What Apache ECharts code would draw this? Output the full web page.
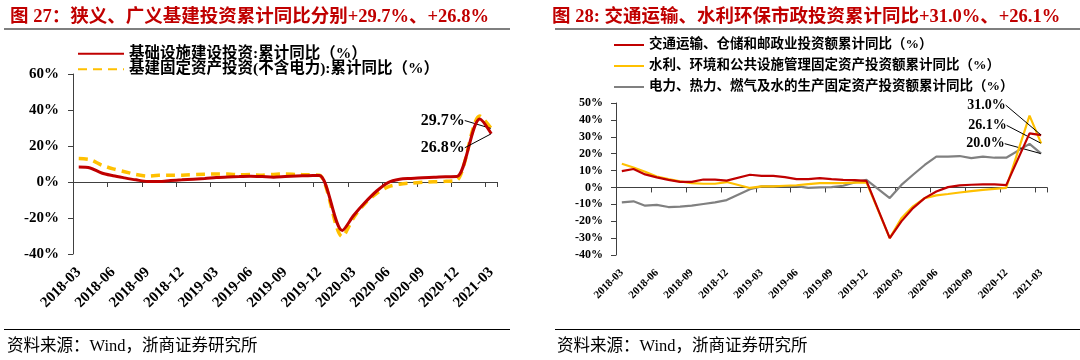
<!DOCTYPE html>
<html><head><meta charset="utf-8">
<script src="https://cdn.jsdelivr.net/npm/echarts@6/dist/echarts.min.js"></script>
<style>html,body{margin:0;padding:0;background:#fff}#c{width:1080px;height:360px}</style>
</head><body><div id="c"></div>
<script>
// ---------- data ----------
const months = [
  '2018-03','2018-04','2018-05','2018-06','2018-07','2018-08','2018-09','2018-10','2018-11','2018-12',
  '2019-01','2019-02','2019-03','2019-04','2019-05','2019-06','2019-07','2019-08','2019-09','2019-10','2019-11','2019-12',
  '2020-01','2020-02','2020-03','2020-04','2020-05','2020-06','2020-07','2020-08','2020-09','2020-10','2020-11','2020-12',
  '2021-01','2021-02','2021-03'
];
// left chart
const infraBroad = [
  8.3, 7.8, 5.0, 3.5, 2.3, 1.2, 0.3, 0.3, 0.8, 1.2,
  null, 2.0, 2.5, 2.8, 3.0, 3.2, 3.0, 2.7, 3.0, 3.3, 3.5, 3.6,
  null, -26.9, -18.5, -11.3, -5.0, -0.3, 1.5, 2.0, 2.4, 2.6, 2.9, 3.0,
  null, 35.0, 26.8
];
const infraNarrow = [
  13.0, 12.4, 9.4, 7.3, 5.7, 4.2, 3.3, 3.7, 3.7, 3.8,
  null, 4.3, 4.4, 4.4, 4.0, 4.1, 3.8, 4.2, 4.5, 4.2, 4.0, 3.8,
  null, -30.3, -19.7, -11.8, -6.3, -2.7, -1.2, -0.6, -0.2, 0.1, 0.4, 0.9,
  null, 36.6, 29.7
];
// right chart
const transport = [
  9.7, 10.9, 7.7, 6.0, 4.5, 3.3, 3.3, 4.7, 4.6, 4.0,
  null, 7.5, 6.9, 6.9, 6.1, 4.9, 4.9, 5.5, 4.9, 4.5, 4.3, 3.9,
  null, -30.0, -20.1, -12.2, -6.3, -2.4, 0.2, 1.2, 1.6, 1.8, 1.8, 1.4,
  null, 32.0, 31.0
];
const waterEnv = [
  14.0, 11.8, 9.3, 6.5, 4.9, 3.6, 2.6, 2.2, 2.2, 3.2,
  null, -0.3, 0.6, 0.6, 1.0, 1.3, 2.0, 2.6, 2.6, 2.6, 2.8, 3.0,
  null, -30.0, -18.3, -11.2, -6.3, -4.7, -3.9, -3.0, -2.2, -1.4, -0.8, -0.2,
  null, 42.5, 26.1
];
const utilities = [
  -8.8, -8.2, -10.8, -10.3, -11.6, -11.4, -10.8, -9.8, -8.8, -7.5,
  null, -1.0, 0.6, 0.6, 0.8, 0.8, -0.3, 0.0, 0.2, 1.0, 3.0, 4.5,
  null, -6.3, 1.5, 7.5, 13.3, 18.3, 18.2, 18.6, 17.4, 18.3, 17.6, 17.6,
  null, 25.8, 20.0
];
const leftTicks = [-40, 60, 20];   // min, max, interval
const rightTicks = [-40, 50, 10];

const leftNames = ['基础设施建设投资:累计同比（%）', '基建固定资产投资(不含电力):累计同比（%）'];
const rightNames = ['交通运输、仓储和邮政业投资额累计同比（%）', '水利、环境和公共设施管理固定资产投资额累计同比（%）', '电力、热力、燃气及水的生产固定资产投资额累计同比（%）'];

// ---------- styles ----------
const SERIF = '"Liberation Serif", "Noto Sans CJK SC", serif';
const RED = '#C00000', YEL = '#FFC000', GRY = '#808080', AX = '#404040';

function withEndLabel(vals, dist, fs) {
  const n = vals.length - 1;
  return vals.map((v, i) => i < n ? v : {
    value: v, symbol: 'circle', symbolSize: 1,
    itemStyle: { color: 'rgba(0,0,0,0)', borderWidth: 0 },
    label: { show: true, position: 'left', distance: dist, formatter: v.toFixed(1) + '%',
      fontSize: fs, fontWeight: 'bold', fontFamily: SERIF, color: '#000' }
  });
}

function catAxes(grid, fs) {
  return [
    { type: 'category', gridIndex: grid, data: months, boundaryGap: true, position: 'bottom',
      axisLine: { show: false, onZero: false }, axisTick: { show: false },
      axisLabel: { interval: 2, rotate: 45, margin: 16, fontSize: fs, fontWeight: 'bold', fontFamily: SERIF, color: '#000' } },
    { type: 'category', gridIndex: grid, data: months, boundaryGap: true, position: 'bottom',
      axisLine: { show: true, onZero: true, lineStyle: { color: AX, width: 1 } },
      axisTick: { show: true, interval: 2, length: 5, lineStyle: { color: AX } },
      axisLabel: { show: false } }
  ];
}
function valAxis(grid, t, fs, margin) {
  return { type: 'value', gridIndex: grid, min: t[0], max: t[1], interval: t[2],
    axisLine: { show: true, lineStyle: { color: AX } },
    axisTick: { show: true, length: 5, lineStyle: { color: AX } },
    splitLine: { show: false },
    axisLabel: { formatter: '{value}%', margin: margin, fontSize: fs, fontWeight: 'bold', fontFamily: SERIF, color: '#000' } };
}

const lineBase = { type: 'line', symbol: 'none', showAllSymbol: true, connectNulls: true, silent: true,
  labelLine: { show: true, lineStyle: { color: '#000', width: 1 } } };

const chart = echarts.init(document.getElementById('c'), null, { renderer: 'canvas' });
chart.setOption({
  backgroundColor: '#fff',
  animation: false,
  title: [
    { text: '图 27：狭义、广义基建投资累计同比分别+29.7%、+26.8%', left: 5, top: 3,
      textStyle: { fontSize: 18.5, fontWeight: 'bold', color: RED, fontFamily: SERIF } },
    { text: '图 28: 交通运输、水利环保市政投资累计同比+31.0%、+26.1%', left: 547, top: 3,
      textStyle: { fontSize: 18.5, fontWeight: 'bold', color: RED, fontFamily: SERIF } }
  ],
  legend: [
    { orient: 'vertical', left: 72, top: 41, itemWidth: 46, itemHeight: 14, itemGap: 0,
      data: leftNames, itemStyle: { opacity: 0 },
      textStyle: { fontSize: 15.5, lineHeight: 15, fontWeight: 'bold', fontFamily: SERIF, color: '#000' } },
    { orient: 'vertical', left: 608, top: 31, itemWidth: 30, itemHeight: 14, itemGap: 3,
      data: rightNames, itemStyle: { opacity: 0 },
      textStyle: { fontSize: 13.5, lineHeight: 18, fontWeight: 'bold', fontFamily: SERIF, color: '#000' } }
  ],
  grid: [
    { left: 73, top: 74, width: 424, height: 180 },
    { left: 616, top: 103, width: 431, height: 152 }
  ],
  xAxis: [...catAxes(0, 15), ...catAxes(1, 11)],
  yAxis: [valAxis(0, leftTicks, 15, 14), valAxis(1, rightTicks, 12, 13)],
  series: [
    Object.assign({}, lineBase, { name: leftNames[0], xAxisIndex: 0, yAxisIndex: 0, smooth: 0.3, z: 3,
      data: withEndLabel(infraBroad, 26, 16), lineStyle: { color: RED, width: 3 }, itemStyle: { color: RED },
      labelLayout: { dy: 14 } }),
    Object.assign({}, lineBase, { name: leftNames[1], xAxisIndex: 0, yAxisIndex: 0, smooth: 0.3, z: 2,
      data: withEndLabel(infraNarrow, 26, 16), lineStyle: { color: YEL, width: 3.5, type: [9, 6] }, itemStyle: { color: YEL },
      labelLayout: { dy: -8 } }),
    Object.assign({}, lineBase, { name: rightNames[0], xAxisIndex: 2, yAxisIndex: 1, z: 4,
      data: withEndLabel(transport, 35, 14), lineStyle: { color: RED, width: 2.2 }, itemStyle: { color: RED },
      labelLayout: { dy: -30 } }),
    Object.assign({}, lineBase, { name: rightNames[1], xAxisIndex: 2, yAxisIndex: 1, z: 3,
      data: withEndLabel(waterEnv, 34, 14), lineStyle: { color: YEL, width: 2.2 }, itemStyle: { color: YEL },
      labelLayout: { dy: -18 } }),
    Object.assign({}, lineBase, { name: rightNames[2], xAxisIndex: 2, yAxisIndex: 1, z: 2,
      data: withEndLabel(utilities, 36, 14), lineStyle: { color: GRY, width: 2.2 }, itemStyle: { color: GRY },
      labelLayout: { dy: -10 } })
  ],
  graphic: [
    { type: 'rect', shape: { x: 4, y: 28, width: 506, height: 2 }, style: { fill: '#7F7F7F' }, silent: true },
    { type: 'rect', shape: { x: 555, y: 28, width: 525, height: 2 }, style: { fill: '#7F7F7F' }, silent: true },
    { type: 'rect', shape: { x: 4, y: 329, width: 506, height: 1 }, style: { fill: '#000' }, silent: true },
    { type: 'rect', shape: { x: 555, y: 329, width: 525, height: 1 }, style: { fill: '#000' }, silent: true },
    { type: 'text', left: 7, top: 338, silent: true,
      style: { text: '资料来源：Wind，浙商证券研究所', fontSize: 16.5, fontFamily: SERIF, fill: '#000' } },
    { type: 'text', left: 557, top: 338, silent: true,
      style: { text: '资料来源：Wind，浙商证券研究所', fontSize: 16.5, fontFamily: SERIF, fill: '#000' } }
  ]
});
</script></body></html>
